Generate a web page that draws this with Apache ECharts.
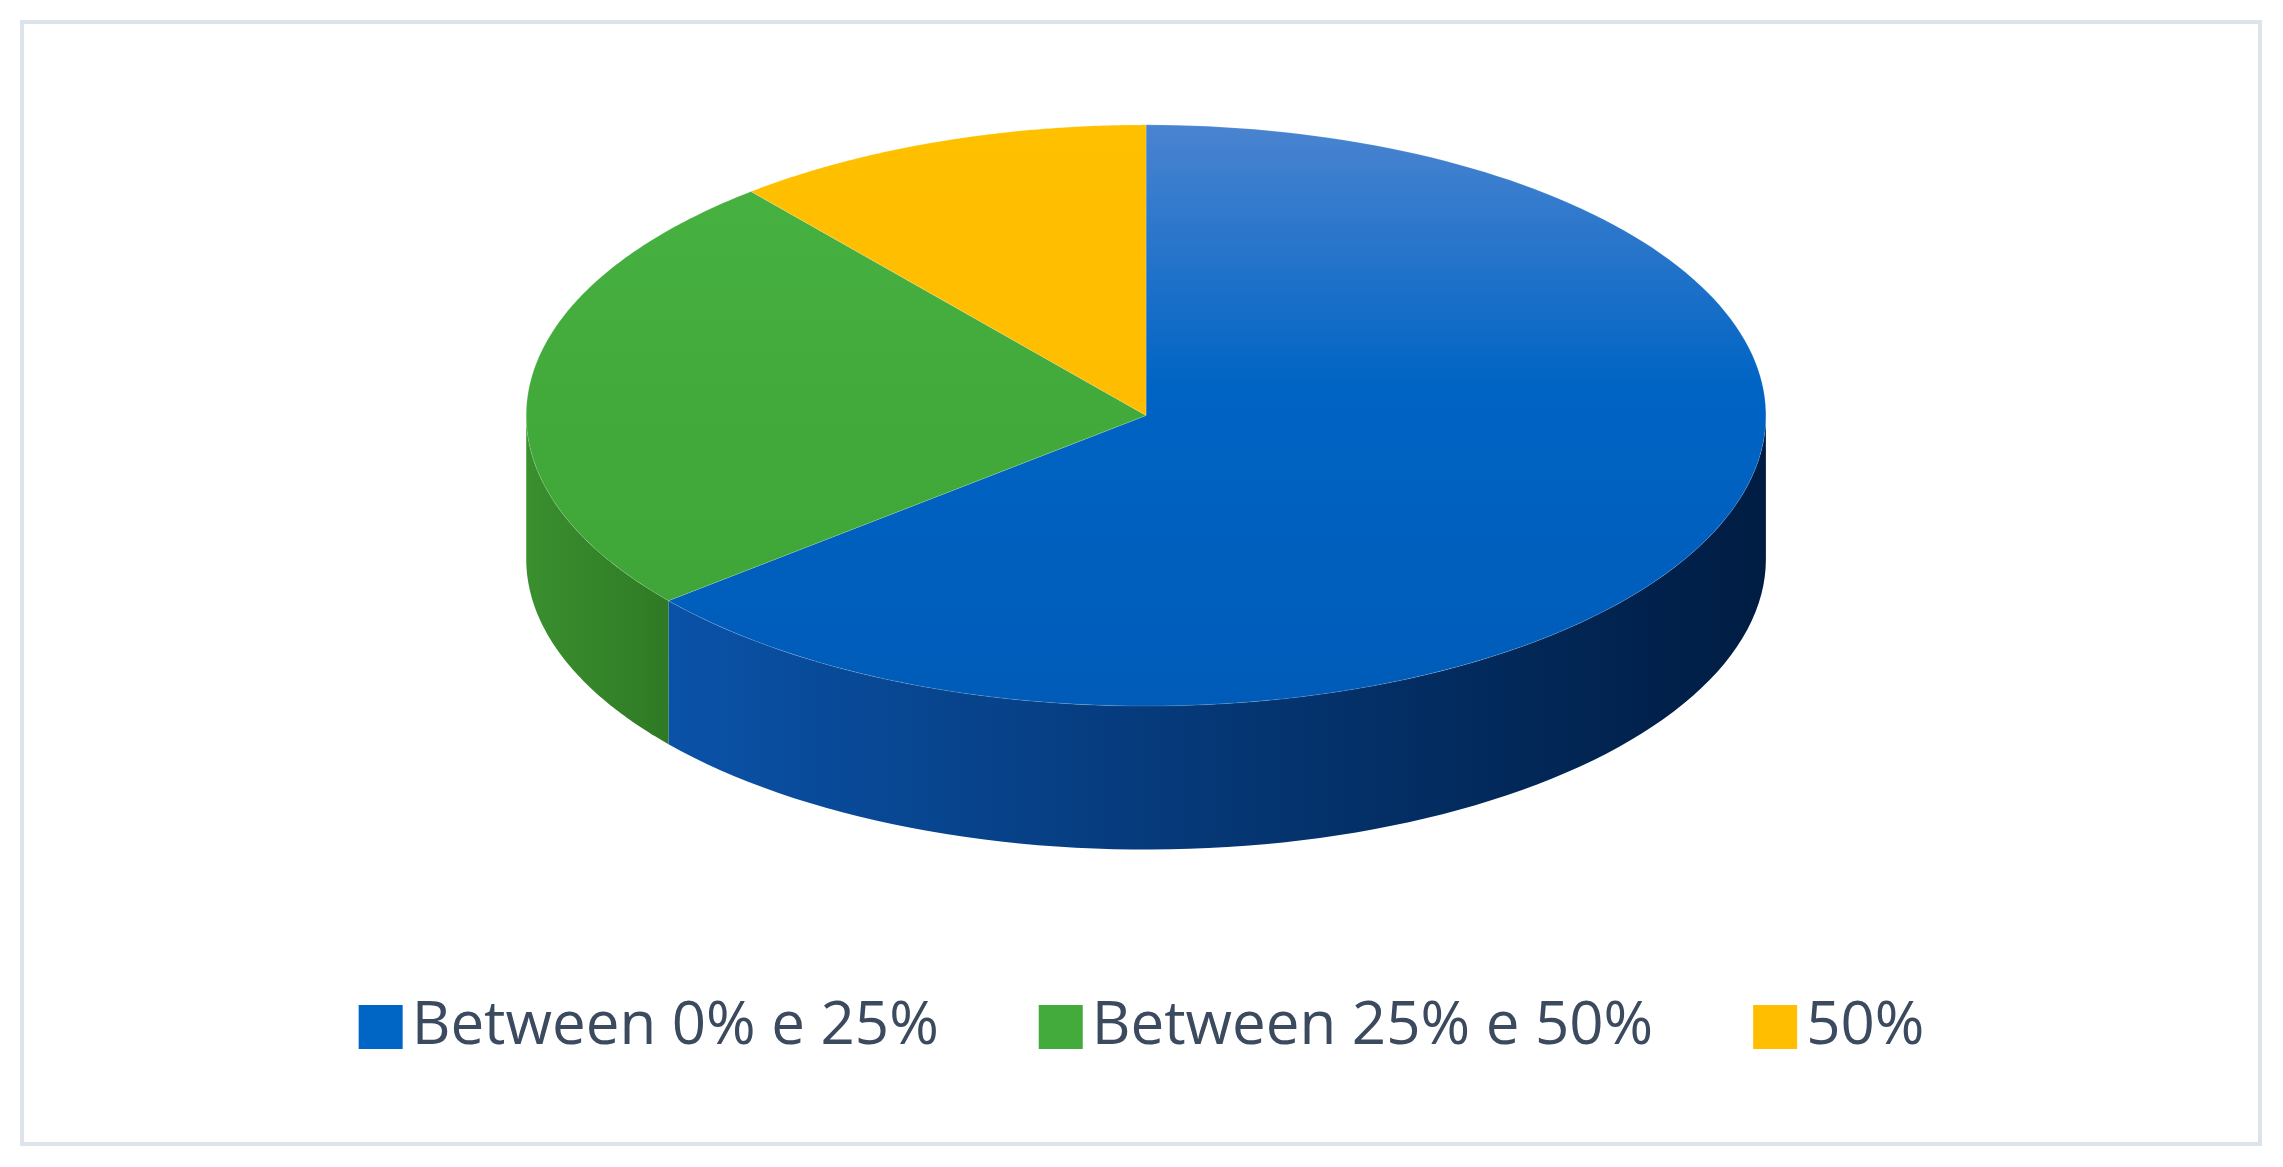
<!DOCTYPE html>
<html lang="en">
<head>
    <meta charset="UTF-8">
    <title>Pie</title>
    <script src="https://cdn.jsdelivr.net/npm/echarts@6/dist/echarts.min.js"></script>
    <style>
        body { margin: 0; background: #fff; }
        #chart { width: 2283px; height: 1167px; }
    </style>
</head>
<body>
    <div id="chart"></div>
    <script>
        // slice data, clockwise from 12 o'clock
        let categories = ['Between 0% e 25%', 'Between 25% e 50%', '50%'];
        let values = [64, 25, 11];
        let colors = ['#0066c6', '#42ab3b', '#ffbf00'];
        let topColors = [['#4a84d0', '#0064c4', '#005bb8'], ['#46b040', '#42ab3b', '#3fa538'], ['#ffc000', '#ffbf00', '#ffbc00']];
        let sideColors = [['#0a52a8', '#001c42'], ['#3a8f2e', '#2f7a25'], ['#d9a000', '#b88800']];

        let total = values.reduce((a, b) => a + b, 0);
        let starts = [];
        let acc = 0;
        values.forEach(v => { starts.push(acc / total * Math.PI * 2); acc += v; });

        let chart = echarts.init(document.getElementById('chart'));

        function renderSlice(idx) {
            return function (params, api) {
                let w = api.getWidth(), hgt = api.getHeight();
                let cx = w * 0.502, cy = hgt * 0.356;
                let rx = w * 0.2715, ry = hgt * 0.249, depth = hgt * 0.123;
                let a = starts[idx], b = a + values[idx] / total * Math.PI * 2;
                let pt = t => [cx + rx * Math.sin(t), cy - ry * Math.cos(t)];
                let children = [];
                // side wall (front half: t in [pi/2, 3pi/2])
                let sa = Math.max(a, Math.PI / 2), sb = Math.min(b, Math.PI * 1.5);
                if (sb > sa) {
                    let rim = [];
                    for (let i = 0; i <= 80; i++) rim.push(pt(sa + (sb - sa) * i / 80));
                    let low = rim.slice().reverse().map(p => [p[0], p[1] + depth]);
                    children.push({
                        type: 'polygon',
                        shape: { points: rim.concat(low) },
                        style: {
                            fill: new echarts.graphic.LinearGradient(1, 0, 0, 0, [
                                { offset: 0, color: sideColors[idx][1] },
                                { offset: 1, color: sideColors[idx][0] }
                            ], false)
                        }
                    });
                }
                // top face
                let top = [[cx, cy]];
                for (let i = 0; i <= 160; i++) top.push(pt(a + (b - a) * i / 160));
                children.push({
                    type: 'polygon',
                    shape: { points: top },
                    style: {
                        fill: new echarts.graphic.LinearGradient(0, 0, 0, 1, [
                            { offset: 0, color: topColors[idx][0] },
                            { offset: 0.45, color: topColors[idx][1] },
                            { offset: 1, color: topColors[idx][2] }
                        ]),
                        stroke: 'rgba(255,255,255,0.15)',
                        lineWidth: 1
                    }
                });
                return { type: 'group', children: children };
            };
        }

        let option = {
            backgroundColor: '#fff',
            graphic: [{
                type: 'rect',
                shape: { x: 22, y: 22, width: 2238, height: 1122 },
                style: { fill: 'none', stroke: '#dde3ea', lineWidth: 4 },
                silent: true
            }],
            legend: {
                bottom: 105,
                left: 'center',
                icon: 'rect',
                itemWidth: 44,
                itemHeight: 44,
                itemGap: 100,
                textStyle: { fontSize: 60, color: '#3b4a5e', fontFamily: 'Open Sans', padding: [0, 0, 0, 4] },
                data: categories
            },
            series: categories.map((name, i) => ({
                name: name,
                type: 'custom',
                coordinateSystem: 'none',
                itemStyle: { color: colors[i] },
                renderItem: renderSlice(i),
                data: [values[i]]
            }))
        };
        chart.setOption(option);
    </script>
</body>
</html>
